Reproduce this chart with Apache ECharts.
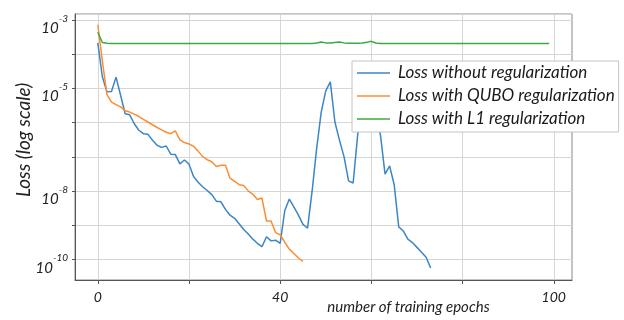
<!DOCTYPE html>
<html><head><meta charset="utf-8">
<script src="https://cdn.jsdelivr.net/npm/echarts@6/dist/echarts.min.js"></script>
<style>html,body{margin:0;padding:0;background:#fff}#c{width:624px;height:320px}</style>
</head><body><div id="c"></div>
<script>
// Loss values, stored as base-10 exponents (loss = 10^exp), one per epoch starting at 0
const noRegExp = [-3.67,-4.66,-5.10,-5.09,-4.67,-5.20,-5.74,-5.77,-6.03,-6.22,
  -6.32,-6.34,-6.51,-6.66,-6.72,-6.68,-6.92,-6.93,-7.20,-7.09,
  -7.21,-7.57,-7.74,-7.87,-7.98,-8.10,-8.29,-8.31,-8.53,-8.70,
  -8.79,-8.95,-9.12,-9.25,-9.40,-9.52,-9.62,-9.33,-9.45,-9.43,
  -9.52,-8.57,-8.23,-8.46,-8.70,-8.97,-9.08,-8.00,-6.75,-5.69,
  -5.07,-4.81,-5.98,-6.51,-6.99,-7.70,-7.76,-6.35,-5.50,-5.20,
  -5.40,-5.80,-6.37,-7.50,-7.26,-7.81,-9.04,-9.16,-9.40,-9.50,
  -9.64,-9.78,-9.93,-10.24];
const quboExp = [-3.14,-4.20,-5.17,-5.40,-5.47,-5.54,-5.65,-5.69,-5.75,-5.82,
  -5.90,-5.98,-6.06,-6.14,-6.21,-6.28,-6.32,-6.24,-6.50,-6.58,
  -6.62,-6.69,-6.83,-6.99,-7.08,-7.14,-7.28,-7.24,-7.24,-7.62,
  -7.71,-7.81,-7.83,-7.99,-8.09,-8.24,-8.20,-8.87,-8.87,-9.21,
  -9.27,-9.49,-9.69,-9.82,-9.95,-10.05];
const l1Exp = [-3.36,-3.66,-3.68,-3.685,-3.685,-3.685,-3.685,-3.685,-3.685,-3.685,
  -3.685,-3.685,-3.685,-3.685,-3.685,-3.685,-3.685,-3.685,-3.685,-3.685,
  -3.685,-3.685,-3.685,-3.685,-3.685,-3.685,-3.685,-3.685,-3.685,-3.685,
  -3.685,-3.685,-3.685,-3.685,-3.685,-3.685,-3.685,-3.685,-3.685,-3.685,
  -3.685,-3.685,-3.685,-3.685,-3.685,-3.685,-3.685,-3.685,-3.675,-3.645,
  -3.67,-3.675,-3.66,-3.645,-3.67,-3.68,-3.68,-3.68,-3.675,-3.655,
  -3.625,-3.675,-3.685,-3.685,-3.685,-3.685,-3.685,-3.685,-3.685,-3.685,
  -3.685,-3.685,-3.685,-3.685,-3.685,-3.685,-3.685,-3.685,-3.685,-3.685,
  -3.685,-3.685,-3.685,-3.685,-3.685,-3.685,-3.685,-3.685,-3.685,-3.685,
  -3.685,-3.685,-3.685,-3.685,-3.685,-3.685,-3.685,-3.685,-3.685,-3.685];
const seriesNames = ['Loss without regularization','Loss with QUBO regularization','Loss with L1 regularization'];
const xLabelValues = [0, 40, 100];
const xTickValues = [0, 20, 40, 60, 80, 100];
const yLabelExps = [-3, -5, -8, -10];

const toPairs = arr => arr.map((e, i) => [i, Math.pow(10, e)]);
const font = 'Lato, "Open Sans", sans-serif';
const colors = ['#3a86c6', '#ff8c2e', '#3fa93f'];

const chart = echarts.init(document.getElementById('c'));
chart.setOption({
  animation: false,
  backgroundColor: '#fff',
  grid: {left: 75, top: 14, right: 52, bottom: 37, show: true, borderColor: '#888', borderWidth: 1},
  legend: {
    orient: 'vertical', left: 352, top: 61,
    padding: [2, 4, 3, 5], itemGap: 3, itemWidth: 33, itemHeight: 1.5, icon: 'rect',
    backgroundColor: '#fff', borderColor: '#c4c4c4', borderWidth: 1,
    textStyle: {fontFamily: font, fontStyle: 'italic', fontSize: 17, color: '#1a1a1a', lineHeight: 20, padding: [0, 0, 0, 3]},
    data: seriesNames
  },
  xAxis: {
    type: 'value', min: -5, max: 104,
    name: 'number of training epochs', nameLocation: 'middle', nameGap: 20, nameMoveOverlap: false,
    nameTextStyle: {fontFamily: font, fontStyle: 'italic', fontSize: 15, color: '#222', padding: [0, 0, 0, 170], verticalAlign: 'top'},
    axisLine: {show: true, onZero: false, lineStyle: {color: '#555'}},
    axisTick: {show: true, length: 4, customValues: xTickValues, lineStyle: {color: '#555'}},
    axisLabel: {customValues: xLabelValues, fontFamily: font, fontStyle: 'italic', fontSize: 14, color: '#222', margin: 10},
    splitLine: {show: true, lineStyle: {color: '#d6d6d6', width: 1}}
  },
  yAxis: {
    type: 'log', logBase: 10, min: Math.pow(10, -10.592), max: Math.pow(10, -2.827),
    name: 'Loss (log scale)', nameLocation: 'middle', nameGap: 42, nameMoveOverlap: false,
    nameTextStyle: {fontFamily: font, fontStyle: 'italic', fontSize: 19, color: '#222', padding: [0, 0, 0, 14]},
    axisLine: {show: true, onZero: false, lineStyle: {color: '#555'}},
    axisTick: {show: true, length: 3, lineStyle: {color: '#555'}},
    axisLabel: {
      showMinLabel: false, showMaxLabel: false, margin: 7, padding: [9, 0, 0, 0],
      formatter: v => {
        const e = Math.log10(v), r = Math.round(e);
        if (Math.abs(e - r) > 0.01 || yLabelExps.indexOf(r) < 0) return '';
        return '{b|10}{s|' + r + '}';
      },
      rich: {
        b: {fontFamily: font, fontStyle: 'italic', fontSize: 15, color: '#222', lineHeight: 22, verticalAlign: 'bottom'},
        s: {fontFamily: font, fontStyle: 'italic', fontSize: 10, color: '#222', lineHeight: 22, verticalAlign: 'top'}
      }
    },
    splitLine: {show: true, lineStyle: {color: '#d6d6d6', width: 1}}
  },
  series: [
    {name: seriesNames[0], type: 'line', data: toPairs(noRegExp), symbol: 'none', lineStyle: {width: 1.5, color: colors[0]}, itemStyle: {color: colors[0]}},
    {name: seriesNames[1], type: 'line', data: toPairs(quboExp), symbol: 'none', lineStyle: {width: 1.5, color: colors[1]}, itemStyle: {color: colors[1]}},
    {name: seriesNames[2], type: 'line', data: toPairs(l1Exp), symbol: 'none', lineStyle: {width: 1.5, color: colors[2]}, itemStyle: {color: colors[2]}}
  ]
});
</script></body></html>
